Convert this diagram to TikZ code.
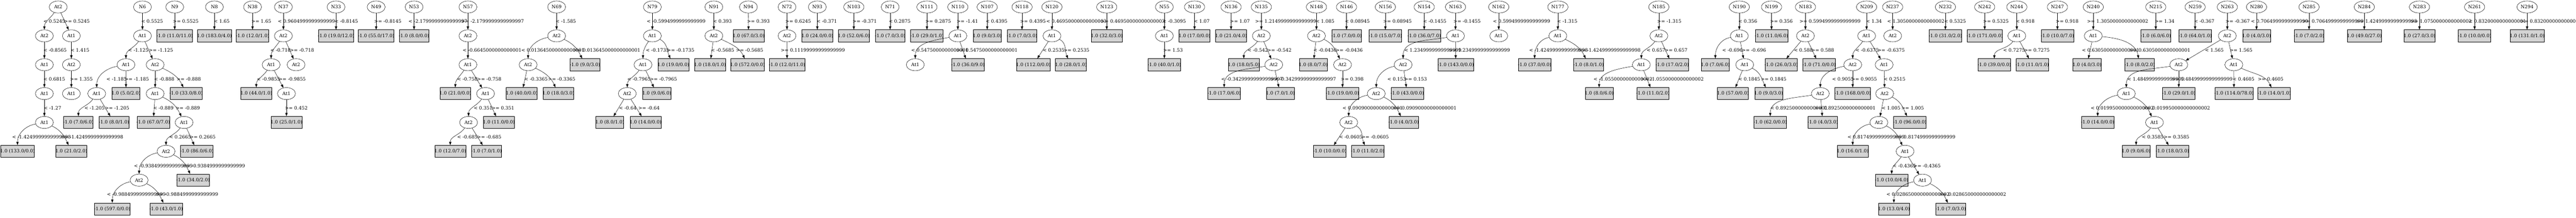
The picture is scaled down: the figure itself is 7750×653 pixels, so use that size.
\documentclass[tikz,border=0pt]{standalone}
\usepackage{fontspec}
\setmainfont{DejaVu Serif}
\usetikzlibrary{arrows.meta,shapes.geometric}
\definecolor{leafgray}{RGB}{211,211,211}

\begin{document}
\begin{tikzpicture}[x=1pt,y=1pt,
  every node/.style={font=\fontsize{14}{16}\selectfont},
  rt/.style={ellipse,draw,line width=0.8pt,minimum width=54pt,minimum height=36pt,inner sep=0pt},
  rtw/.style={rt,minimum width=61pt},
  split/.style={rt},
  leaf/.style={rectangle,draw,line width=1pt,fill=leafgray,minimum height=36pt,inner xsep=-1.5pt,inner ysep=0pt},
  lbl/.style={anchor=west,inner sep=0pt},
  arr/.style={line width=0.8pt,-{Triangle[length=10pt,width=7pt]}},
  ln/.style={out=-125,in=90},
  lf/.style={out=190,in=90},
  rc/.style={out=-25,in=115},
  rf/.style={out=-5,in=100}]
\useasboundingbox (0,0) rectangle (7750,653);

% Tree At2
\node[split] (T0) at (175,632) {At2};
\node[split] (T0a) at (133.5,545.4) {At2};
\node[split] (T0b) at (214.7,545.4) {At1};
\node[split] (T0c) at (133.5,458.8) {At1};
\node[split] (T0d) at (133.5,372.2) {At1};
\node[split] (T0e) at (133.5,285.6) {At1};
\node[leaf] (T0f) at (52.6,199) {1.0 (133.0/0.0)};
\node[leaf] (T0g) at (214.7,199) {1.0 (21.0/2.0)};
\node[split] (T0h) at (214.7,458.8) {At2};
\node[split] (T0i) at (214.7,372.2) {At1};
\draw[arr] (T0) to[ln] (T0a);
\draw[arr] (T0) -- (T0b);
\draw[arr] (T0a) -- (T0c);
\draw[arr] (T0c) -- (T0d);
\draw[arr] (T0d) -- (T0e);
\draw[arr] (T0e) to[lf] (T0f);
\draw[arr] (T0e) to[rc] (T0g);
\draw[arr] (T0b) -- (T0h);
\draw[arr] (T0h) -- (T0i);
% Text Node
\node[lbl] (eT0a) at (130.6,588.7) {< 0.5245};
\node[lbl] (eT0b) at (192.7,588.7) {>= 0.5245};
\node[lbl] (eT0c) at (130.6,502.1) {< -0.8565};
\node[lbl] (eT0d) at (130.6,415.5) {< 0.6815};
\node[lbl] (eT0e) at (131.8,328.9) {< -1.27};
\node[lbl] (eT0f) at (36.5,242.3) {< -1.4249999999999998};
\node[lbl,anchor=east] (eT0g) at (371,242.3) {>= -1.4249999999999998};
\node[lbl] (eT0h) at (212.2,502.1) {< 1.415};
\node[lbl] (eT0i) at (210.6,415.5) {>= 1.355};

% Tree N6
\node[rt] (N6) at (428.6,632) {N6};
\node[split] (N6a) at (428.6,545.4) {At1};
\node[split] (N6b) at (378.9,458.8) {At1};
\node[split] (N6c) at (466.7,458.8) {At2};
\node[split] (N6d) at (291,372.2) {At1};
\node[leaf] (N6e) at (379,372.2) {1.0 (5.0/2.0)};
\node[leaf] (N6f) at (235.9,285.6) {-1.0 (7.0/6.0)};
\node[leaf] (N6g) at (343,285.6) {-1.0 (8.0/1.0)};
\node[split] (N6h) at (466.7,372.2) {At1};
\node[leaf] (N6i) at (560,372.2) {-1.0 (33.0/8.0)};
\node[leaf] (N6j) at (461,285.6) {-1.0 (67.0/7.0)};
\node[split] (N6k) at (553.8,285.6) {At1};
\node[split] (N6l) at (499.5,199) {At2};
\node[leaf] (N6m) at (592.5,199) {-1.0 (86.0/6.0)};
\node[split] (N6n) at (418.6,112.4) {At2};
\node[leaf] (N6o) at (580.7,112.4) {-1.0 (34.0/2.0)};
\node[leaf] (N6p) at (337.8,25.8) {-1.0 (597.0/0.0)};
\node[leaf] (N6q) at (499.9,25.8) {-1.0 (43.0/1.0)};
\draw[arr] (N6) -- (N6a);
\draw[arr] (N6a) to[ln] (N6b);
\draw[arr] (N6a) -- (N6c);
\draw[arr] (N6b) to[lf] (N6d);
\draw[arr] (N6b) -- (N6e);
\draw[arr] (N6d) to[ln] (N6f);
\draw[arr] (N6d) -- (N6g);
\draw[arr] (N6c) -- (N6h);
\draw[arr] (N6c) to[rc] (N6i);
\draw[arr] (N6h) -- (N6j);
\draw[arr] (N6h) to[rc] (N6k);
\draw[arr] (N6k) to[ln] (N6l);
\draw[arr] (N6k) -- (N6m);
\draw[arr] (N6l) to[lf] (N6n);
\draw[arr] (N6l) to[rc] (N6o);
\draw[arr] (N6n) to[lf] (N6p);
\draw[arr] (N6n) to[rc] (N6q);
% Text Node
\node[lbl] (eN6a) at (424.9,588.7) {< 0.5525};
\node[lbl] (eN6b) at (385.5,502.1) {< -1.125};
\node[lbl] (eN6c) at (447.7,502.1) {>= -1.125};
\node[lbl] (eN6d) at (320,415.5) {< -1.185};
\node[lbl] (eN6e) at (375.1,415.5) {>= -1.185};
\node[lbl] (eN6f) at (253.7,328.9) {< -1.205};
\node[lbl] (eN6g) at (315.8,328.9) {>= -1.205};
\node[lbl] (eN6h) at (463.4,415.5) {< -0.888};
\node[lbl] (eN6i) at (531.4,415.5) {>= -0.888};
\node[lbl] (eN6j) at (461,328.9) {< -0.889};
\node[lbl] (eN6k) at (528.5,328.9) {>= -0.889};
\node[lbl] (eN6l) at (509,242.3) {< 0.2665};
\node[lbl] (eN6m) at (571.2,242.3) {>= 0.2665};
\node[lbl] (eN6n) at (402.9,155.7) {< -0.9384999999999999};
\node[lbl,anchor=east] (eN6o) at (737.4,155.7) {>= -0.9384999999999999};
\node[lbl] (eN6p) at (321.7,69.1) {< -0.9884999999999999};
\node[lbl,anchor=east] (eN6q) at (656.6,69.1) {>= -0.9884999999999999};

% Trees N9, N8, N38
\node[rt] (N9) at (525.6,632) {N9};
\node[leaf] (N9a) at (525.6,545.4) {-1.0 (11.0/11.0)};
\draw[arr] (N9) -- (N9a);
\node[lbl] (eN9a) at (520.2,588.7) {>= 0.5525};
\node[rt] (N8) at (645,632) {N8};
\node[leaf] (N8a) at (645,545.4) {1.0 (183.0/4.0)};
\draw[arr] (N8) -- (N8a);
\node[lbl] (eN8a) at (643.3,588.7) {< 1.65};
\node[rt] (N38) at (759.8,632) {N38};
\node[leaf] (N38a) at (759.8,545.4) {-1.0 (12.0/1.0)};
\draw[arr] (N38) -- (N38a);
\node[lbl] (eN38a) at (756.5,588.7) {>= 1.65};

% Tree N37
\node[rt] (N37) at (852.6,632) {N37};
\node[split] (N37a) at (852.6,545.4) {At2};
\node[split] (N37b) at (815.7,458.8) {At1};
\node[split] (N37c) at (890.8,458.8) {At2};
\node[leaf] (N37d) at (771,372.2) {1.0 (44.0/1.0)};
\node[split] (N37e) at (861.8,372.2) {At1};
\node[leaf] (N37f) at (861.8,285.6) {1.0 (25.0/1.0)};
\draw[arr] (N37) -- (N37a);
\draw[arr] (N37a) to[ln] (N37b);
\draw[arr] (N37a) -- (N37c);
\draw[arr] (N37b) to[ln] (N37d);
\draw[arr] (N37b) -- (N37e);
\draw[arr] (N37e) -- (N37f);
\node[lbl] (eN37a) at (836,588.7) {< 0.9604999999999999};
\node[lbl] (eN37b) at (813.3,502.1) {< -0.718};
\node[lbl] (eN37c) at (872.1,502.1) {>= -0.718};
\node[lbl] (eN37d) at (772.6,415.5) {< -0.9855};
\node[lbl] (eN37e) at (838.1,415.5) {>= -0.9855};
\node[lbl] (eN37f) at (857.2,328.9) {>= 0.452};

% Trees N33, N49, N53
\node[rt] (N33) at (1011,632) {N33};
\node[leaf] (N33a) at (1011,545.4) {-1.0 (19.0/12.0)};
\draw[arr] (N33) -- (N33a);
\node[lbl] (eN33a) at (1006.8,588.7) {< -0.8145};
\node[rt] (N49) at (1131.7,632) {N49};
\node[leaf] (N49a) at (1131.7,545.4) {-1.0 (55.0/17.0)};
\draw[arr] (N49) -- (N49a);
\node[lbl] (eN49a) at (1125.8,588.7) {>= -0.8145};
\node[rt] (N53) at (1245.7,632) {N53};
\node[leaf] (N53a) at (1245.7,545.4) {-1.0 (8.0/0.0)};
\draw[arr] (N53) -- (N53a);
\node[lbl] (eN53a) at (1228.6,588.7) {< -2.1799999999999997};

% Tree N57
\node[rt] (N57) at (1407.7,632) {N57};
\node[split] (N57a) at (1407.7,545.4) {At2};
\node[split] (N57b) at (1407.7,458.8) {At1};
\node[leaf] (N57c) at (1369.9,372.2) {1.0 (21.0/0.0)};
\node[split] (N57d) at (1460.7,372.2) {At1};
\node[split] (N57e) at (1409.7,285.6) {At2};
\node[leaf] (N57f) at (1500.9,285.6) {1.0 (11.0/0.0)};
\node[leaf] (N57g) at (1354.6,199) {1.0 (12.0/7.0)};
\node[leaf] (N57h) at (1463.6,199) {-1.0 (7.0/1.0)};
\draw[arr] (N57) -- (N57a);
\draw[arr] (N57a) -- (N57b);
\draw[arr] (N57b) to[ln] (N57c);
\draw[arr] (N57b) -- (N57d);
\draw[arr] (N57d) to[ln] (N57e);
\draw[arr] (N57d) -- (N57f);
\draw[arr] (N57e) to[ln] (N57g);
\draw[arr] (N57e) -- (N57h);
\node[lbl,anchor=east] (eN57a) at (1576.4,588.7) {>= -2.1799999999999997};
\node[lbl] (eN57b) at (1391.9,502.1) {< -0.6645000000000001};
\node[lbl] (eN57c) at (1375.3,415.5) {< -0.758};
\node[lbl] (eN57d) at (1435.4,415.5) {>= -0.758};
\node[lbl] (eN57e) at (1425.1,328.9) {< 0.351};
\node[lbl] (eN57f) at (1479,328.9) {>= 0.351};
\node[lbl] (eN57g) at (1375.3,242.3) {< -0.685};
\node[lbl] (eN57h) at (1435.4,242.3) {>= -0.685};

% Tree N69
\node[rt] (N69) at (1674.6,632) {N69};
\node[split] (N69a) at (1674.6,545.4) {At2};
\node[split] (N69b) at (1588.8,458.8) {At2};
\node[leaf] (N69c) at (1759.8,458.8) {-1.0 (9.0/3.0)};
\node[leaf] (N69d) at (1569.7,372.2) {1.0 (40.0/0.0)};
\node[leaf] (N69e) at (1680,372.2) {1.0 (18.0/3.0)};
\draw[arr] (N69) -- (N69a);
\draw[arr] (N69a) to[lf] (N69b);
\draw[arr] (N69a) to[rc] (N69c);
\draw[arr] (N69b) -- (N69d);
\draw[arr] (N69b) to[rc] (N69e);
\node[lbl] (eN69a) at (1671.7,588.7) {< -1.585};
\node[lbl] (eN69b) at (1568.1,502.1) {< 0.013645000000000001};
\node[lbl,anchor=east] (eN69c) at (1926.6,502.1) {>= 0.013645000000000001};
\node[lbl] (eN69d) at (1577.6,415.5) {< -0.3365};
\node[lbl] (eN69e) at (1648.9,415.5) {>= -0.3365};

% Tree N79
\node[rt] (N79) at (1962.7,632) {N79};
\node[split] (N79a) at (1962.7,545.4) {At1};
\node[split] (N79b) at (1934.5,458.8) {At1};
\node[leaf] (N79c) at (2025.7,458.8) {1.0 (19.0/0.0)};
\node[split] (N79d) at (1887.2,372.2) {At2};
\node[leaf] (N79e) at (1976,372.2) {1.0 (9.0/6.0)};
\node[leaf] (N79f) at (1834.8,285.6) {1.0 (8.0/1.0)};
\node[leaf] (N79g) at (1942,285.6) {1.0 (14.0/0.0)};
\draw[arr] (N79) -- (N79a);
\draw[arr] (N79a) to[ln] (N79b);
\draw[arr] (N79a) to[rc] (N79c);
\draw[arr] (N79b) to[ln] (N79d);
\draw[arr] (N79b) -- (N79e);
\draw[arr] (N79d) -- (N79f);
\draw[arr] (N79d) -- (N79g);
\node[lbl] (eN79a) at (1945.7,588.7) {< -0.5994999999999999};
\node[lbl] (eN79b) at (1942.8,502.1) {< -0.1735};
\node[lbl] (eN79c) at (2007,502.1) {>= -0.1735};
\node[lbl] (eN79d) at (1887.2,415.5) {< -0.7965};
\node[lbl] (eN79e) at (1955.2,415.5) {>= -0.7965};
\node[lbl] (eN79f) at (1862.4,328.9) {< -0.64};
\node[lbl] (eN79g) at (1920.4,328.9) {>= -0.64};

% Trees N91, N94, N72, N93, N103, N71, N111
\node[rt] (N91) at (2147.6,632) {N91};
\node[split] (N91a) at (2147.6,545.4) {At2};
\node[leaf] (N91b) at (2136,458.8) {1.0 (18.0/1.0)};
\node[leaf] (N91c) at (2248.9,458.8) {1.0 (572.0/0.0)};
\draw[arr] (N91) -- (N91a);
\draw[arr] (N91a) -- (N91b);
\draw[arr] (N91a) to[rc] (N91c);
\node[lbl] (eN91a) at (2145.1,588.7) {< 0.393};
\node[lbl] (eN91b) at (2138.9,502.1) {< -0.5685};
\node[lbl] (eN91c) at (2214.3,502.1) {>= -0.5685};
\node[rt] (N94) at (2251.6,632) {N94};
\node[leaf] (N94a) at (2252,545.4) {1.0 (67.0/3.0)};
\draw[arr] (N94) -- (N94a);
\node[lbl] (eN94a) at (2247.5,588.7) {>= 0.393};
\node[rt] (N72) at (2367.7,632) {N72};
\node[split] (N72a) at (2367.7,545.4) {At2};
\node[leaf] (N72b) at (2367.9,458.8) {-1.0 (12.0/11.0)};
\draw[arr] (N72) -- (N72a);
\draw[arr] (N72a) -- (N72b);
\node[lbl] (eN72a) at (2362.7,588.7) {>= 0.6245};
\node[lbl] (eN72b) at (2349,502.1) {>= 0.11199999999999999};
\node[rt] (N93) at (2458.9,632) {N93};
\node[leaf] (N93a) at (2458.9,545.4) {1.0 (24.0/0.0)};
\draw[arr] (N93) -- (N93a);
\node[lbl] (eN93a) at (2456.8,588.7) {< -0.371};
\node[rtw] (N103) at (2568.8,632) {N103};
\node[leaf] (N103a) at (2568.8,545.4) {1.0 (52.0/6.0)};
\draw[arr] (N103) -- (N103a);
\node[lbl] (eN103a) at (2565,588.7) {>= -0.371};
\node[rt] (N71) at (2678,632) {N71};
\node[leaf] (N71a) at (2678,545.4) {-1.0 (7.0/3.0)};
\draw[arr] (N71) -- (N71a);
\node[lbl] (eN71a) at (2674,588.7) {< 0.2875};
\node[rtw] (N111) at (2788.8,632) {N111};
\node[leaf] (N111a) at (2788.8,545.4) {-1.0 (29.0/1.0)};
\draw[arr] (N111) -- (N111a);
\node[lbl] (eN111a) at (2783.8,588.7) {>= 0.2875};

% Tree N110
\node[rtw] (N110) at (2881.7,632) {N110};
\node[split] (N110a) at (2881.7,545.4) {At1};
\node[split] (N110b) at (2753.6,458.8) {At1};
\node[leaf] (N110c) at (2911.9,458.8) {-1.0 (36.0/9.0)};
\draw[arr] (N110) -- (N110a);
\draw[arr] (N110a) to[lf] (N110b);
\draw[arr] (N110a) -- (N110c);
\node[lbl] (eN110a) at (2878.3,588.7) {>= -1.41};
\node[lbl] (eN110b) at (2741.1,502.1) {< 0.5475000000000001};
\node[lbl,anchor=east] (eN110c) at (3061.5,502.1) {>= 0.5475000000000001};

% Trees N107, N118, N120, N123
\node[rtw] (N107) at (2970,632) {N107};
\node[leaf] (N107a) at (2970,545.4) {1.0 (9.0/3.0)};
\draw[arr] (N107) -- (N107a);
\node[lbl] (eN107a) at (2965.4,588.7) {< 0.4395};
\node[rtw] (N118) at (3074.8,632) {N118};
\node[leaf] (N118a) at (3074.8,545.4) {-1.0 (7.0/3.0)};
\draw[arr] (N118) -- (N118a);
\node[lbl] (eN118a) at (3069,588.7) {>= 0.4395};
\node[rtw] (N120) at (3164.8,632) {N120};
\node[split] (N120a) at (3164.8,545.4) {At1};
\node[leaf] (N120b) at (3108.8,458.8) {1.0 (112.0/0.0)};
\node[leaf] (N120c) at (3222,458.8) {1.0 (28.0/1.0)};
\draw[arr] (N120) -- (N120a);
\draw[arr] (N120a) -- (N120b);
\draw[arr] (N120a) to[rc] (N120c);
\node[lbl] (eN120a) at (3147.8,588.7) {< 0.46950000000000003};
\node[lbl] (eN120b) at (3137,502.1) {< 0.2535};
\node[lbl] (eN120c) at (3200,502.1) {>= 0.2535};
\node[rtw] (N123) at (3329.7,632) {N123};
\node[leaf] (N123a) at (3329.7,545.4) {1.0 (32.0/3.0)};
\draw[arr] (N123) -- (N123a);
\node[lbl] (eN123a) at (3311.9,588.7) {>= 0.46950000000000003};

% Trees N55, N130, N136
\node[rt] (N55) at (3503,632) {N55};
\node[split] (N55a) at (3503,545.4) {At1};
\node[leaf] (N55b) at (3503,458.8) {-1.0 (40.0/1.0)};
\draw[arr] (N55) -- (N55a);
\draw[arr] (N55a) -- (N55b);
\node[lbl] (eN55a) at (3497.6,588.7) {< -0.3095};
\node[lbl] (eN55b) at (3499.3,502.1) {>= 1.53};
\node[rtw] (N130) at (3593.8,632) {N130};
\node[leaf] (N130a) at (3593.8,545.4) {1.0 (17.0/0.0)};
\draw[arr] (N130) -- (N130a);
\node[lbl] (eN130a) at (3591.7,588.7) {< 1.07};
\node[rtw] (N136) at (3703.7,632) {N136};
\node[leaf] (N136a) at (3703.7,545.4) {1.0 (21.0/4.0)};
\draw[arr] (N136) -- (N136a);
\node[lbl] (eN136a) at (3700.7,588.7) {>= 1.07};

% Tree N135
\node[rtw] (N135) at (3794.8,632) {N135};
\node[split] (N135a) at (3794.8,545.4) {At2};
\node[leaf] (N135b) at (3742,458.8) {1.0 (18.0/5.0)};
\node[split] (N135c) at (3832.1,458.8) {At2};
\node[leaf] (N135d) at (3682.9,372.2) {-1.0 (17.0/6.0)};
\node[leaf] (N135e) at (3851.8,372.2) {1.0 (7.0/1.0)};
\draw[arr] (N135) -- (N135a);
\draw[arr] (N135a) to[ln] (N135b);
\draw[arr] (N135a) -- (N135c);
\draw[arr] (N135c) to[lf] (N135d);
\draw[arr] (N135c) -- (N135e);
\node[lbl] (eN135a) at (3776.2,588.7) {>= 1.2149999999999999};
\node[lbl] (eN135b) at (3753.4,502.1) {< -0.542};
\node[lbl] (eN135c) at (3812.6,502.1) {>= -0.542};
\node[lbl] (eN135d) at (3673.8,415.5) {< -0.34299999999999997};
\node[lbl,anchor=east] (eN135e) at (4019.5,415.5) {>= -0.34299999999999997};

% Tree N148
\node[rtw] (N148) at (3960.6,632) {N148};
\node[split] (N148a) at (3960.6,545.4) {At2};
\node[leaf] (N148b) at (3950.9,458.8) {1.0 (8.0/7.0)};
\node[split] (N148c) at (4039,458.8) {At2};
\node[leaf] (N148d) at (4039,372.2) {-1.0 (19.0/0.0)};
\draw[arr] (N148) -- (N148a);
\draw[arr] (N148a) -- (N148b);
\draw[arr] (N148a) to[rc] (N148c);
\draw[arr] (N148c) -- (N148d);
\node[lbl] (eN148a) at (3958.1,588.7) {< 1.085};
\node[lbl] (eN148b) at (3951.1,502.1) {< -0.0436};
\node[lbl] (eN148c) at (4018.2,502.1) {>= -0.0436};
\node[lbl] (eN148d) at (4034,415.5) {>= 0.398};

% Trees N146, N156, N154
\node[rtw] (N146) at (4051,632) {N146};
\node[leaf] (N146a) at (4051,545.4) {-1.0 (7.0/0.0)};
\draw[arr] (N146) -- (N146a);
\node[lbl] (eN146a) at (4046.4,588.7) {< 0.08945};
\node[rtw] (N156) at (4167.9,632) {N156};
\node[leaf] (N156a) at (4167.9,545.4) {-1.0 (15.0/7.0)};
\draw[arr] (N156) -- (N156a);
\node[lbl] (eN156a) at (4161.2,588.7) {>= 0.08945};
\node[rtw] (N154) at (4284.8,632) {N154};
\node[leaf] (N154a) at (4284.8,545.4) {-1.0 (36.0/7.0)};
\draw[arr] (N154) -- (N154a);
\node[lbl] (eN154a) at (4281.4,588.7) {< -0.1455};

% Tree N163
\node[rtw] (N163) at (4378.9,632) {N163};
\node[split] (N163a) at (4378.9,545.4) {At1};
\node[split] (N163b) at (4221.3,458.8) {At2};
\node[leaf] (N163c) at (4379.7,458.8) {-1.0 (143.0/0.0)};
\node[split] (N163d) at (4140.5,372.2) {At2};
\node[leaf] (N163e) at (4233.8,372.2) {-1.0 (43.0/0.0)};
\node[split] (N163f) at (4057.6,285.6) {At2};
\node[leaf] (N163g) at (4222.8,285.6) {-1.0 (4.0/3.0)};
\node[leaf] (N163h) at (4000.8,199) {-1.0 (10.0/0.0)};
\node[leaf] (N163i) at (4114.8,199) {-1.0 (11.0/2.0)};
\draw[arr] (N163) -- (N163a);
\draw[arr] (N163a) to[lf] (N163b);
\draw[arr] (N163a) -- (N163c);
\draw[arr] (N163b) to[lf] (N163d);
\draw[arr] (N163b) -- (N163e);
\draw[arr] (N163d) to[lf] (N163f);
\draw[arr] (N163d) to[rc] (N163g);
\draw[arr] (N163f) -- (N163h);
\draw[arr] (N163f) to[rc] (N163i);
\node[lbl] (eN163a) at (4372.6,588.7) {>= -0.1455};
\node[lbl] (eN163b) at (4224.7,502.1) {< 1.2349999999999999};
\node[lbl,anchor=east] (eN163c) at (4543,502.1) {>= 1.2349999999999999};
\node[lbl] (eN163d) at (4173.7,415.5) {< 0.153};
\node[lbl] (eN163e) at (4224.7,415.5) {>= 0.153};
\node[lbl] (eN163f) at (4039,328.9) {< 0.09090000000000001};
\node[lbl,anchor=east] (eN163g) at (4382.2,328.9) {>= 0.09090000000000001};
\node[lbl] (eN163h) at (4028.6,242.3) {< -0.0605};
\node[lbl] (eN163i) at (4096.2,242.3) {>= -0.0605};

% Trees N162, N177
\node[rtw] (N162) at (4509,632) {N162};
\node[split] (N162a) at (4509,545.4) {At1};
\draw[arr] (N162) -- (N162a);
\node[lbl] (eN162a) at (4491.6,588.7) {< 0.5994999999999999};
\node[rtw] (N177) at (4686.8,632) {N177};
\node[split] (N177a) at (4686.8,545.4) {At1};
\node[leaf] (N177b) at (4617,458.8) {-1.0 (37.0/0.0)};
\node[leaf] (N177c) at (4779,458.8) {-1.0 (8.0/1.0)};
\draw[arr] (N177) -- (N177a);
\draw[arr] (N177a) to[lf] (N177b);
\draw[arr] (N177a) to[rc] (N177c);
\node[lbl] (eN177a) at (4684.4,588.7) {< -1.315};
\node[lbl] (eN177b) at (4600.2,502.1) {< -1.4249999999999998};
\node[lbl,anchor=east] (eN177c) at (4936,502.1) {>= -1.4249999999999998};

% Tree N185
\node[rtw] (N185) at (4990.7,632) {N185};
\node[split] (N185a) at (4990.7,545.4) {At2};
\node[split] (N185b) at (4938,458.8) {At1};
\node[leaf] (N185c) at (5030.9,458.8) {-1.0 (17.0/2.0)};
\node[leaf] (N185d) at (4811,372.2) {1.0 (8.0/6.0)};
\node[leaf] (N185e) at (4972.8,372.2) {-1.0 (11.0/2.0)};
\draw[arr] (N185) -- (N185a);
\draw[arr] (N185a) to[ln] (N185b);
\draw[arr] (N185a) -- (N185c);
\draw[arr] (N185b) to[lf] (N185d);
\draw[arr] (N185b) -- (N185e);
\node[lbl] (eN185a) at (4985.7,588.7) {>= -1.315};
\node[lbl] (eN185b) at (4953.8,502.1) {< 0.657};
\node[lbl] (eN185c) at (5008.5,502.1) {>= 0.657};
\node[lbl] (eN185d) at (4794.2,415.5) {< -1.0550000000000002};
\node[lbl,anchor=east] (eN185e) at (5125.8,415.5) {>= -1.0550000000000002};

% Trees N190, N199, N183
\node[rtw] (N190) at (5232.7,632) {N190};
\node[split] (N190a) at (5232.7,545.4) {At1};
\node[leaf] (N190b) at (5160.6,458.8) {1.0 (7.0/6.0)};
\node[split] (N190c) at (5248.9,458.8) {At1};
\node[leaf] (N190d) at (5213.7,372.2) {1.0 (57.0/0.0)};
\node[leaf] (N190e) at (5321,372.2) {1.0 (9.0/3.0)};
\draw[arr] (N190) -- (N190a);
\draw[arr] (N190a) to[lf] (N190b);
\draw[arr] (N190a) -- (N190c);
\draw[arr] (N190c) -- (N190d);
\draw[arr] (N190c) to[rc] (N190e);
\node[lbl] (eN190a) at (5229.8,588.7) {< 0.356};
\node[lbl] (eN190b) at (5181.3,502.1) {< -0.696};
\node[lbl] (eN190c) at (5240.2,502.1) {>= -0.696};
\node[lbl] (eN190d) at (5229.8,415.5) {< 0.1845};
\node[lbl] (eN190e) at (5297.4,415.5) {>= 0.1845};
\node[rtw] (N199) at (5329.7,632) {N199};
\node[leaf] (N199a) at (5329.7,545.4) {-1.0 (11.0/6.0)};
\draw[arr] (N199) -- (N199a);
\node[lbl] (eN199a) at (5325.2,588.7) {>= 0.356};
\node[rtw] (N183) at (5431.7,632) {N183};
\node[split] (N183a) at (5431.7,545.4) {At2};
\node[leaf] (N183b) at (5358.8,458.8) {-1.0 (26.0/3.0)};
\node[leaf] (N183c) at (5472.7,458.8) {-1.0 (71.0/0.0)};
\draw[arr] (N183) -- (N183a);
\draw[arr] (N183a) -- (N183b);
\draw[arr] (N183a) -- (N183c);
\node[lbl] (eN183a) at (5413.5,588.7) {>= 0.5994999999999999};
\node[lbl] (eN183b) at (5396.9,502.1) {< 0.588};
\node[lbl] (eN183c) at (5449.5,502.1) {>= 0.588};

% Tree N209
\node[rtw] (N209) at (5615.7,632) {N209};
\node[split] (N209a) at (5615.7,545.4) {At1};
\node[split] (N209b) at (5573.9,458.8) {At2};
\node[split] (N209c) at (5668.4,458.8) {At1};
\node[split] (N209d) at (5476.5,372.2) {At2};
\node[leaf] (N209e) at (5573.9,372.2) {-1.0 (168.0/0.0)};
\node[leaf] (N209f) at (5325.8,285.6) {-1.0 (62.0/0.0)};
\node[leaf] (N209g) at (5483.9,285.6) {-1.0 (4.0/3.0)};
\node[split] (N209h) at (5670,372.2) {At2};
\node[split] (N209i) at (5652.6,285.6) {At2};
\node[leaf] (N209j) at (5745.9,285.6) {-1.0 (96.0/0.0)};
\node[leaf] (N209k) at (5573.9,199) {1.0 (16.0/1.0)};
\node[split] (N209l) at (5731.4,199) {At1};
\node[leaf] (N209m) at (5691.2,112.4) {-1.0 (10.0/4.0)};
\node[split] (N209n) at (5784,112.4) {At1};
\node[leaf] (N209o) at (5697.8,25.8) {1.0 (13.0/4.0)};
\node[leaf] (N209p) at (5868.6,25.8) {-1.0 (7.0/3.0)};
\draw[arr] (N209) -- (N209a);
\draw[arr] (N209a) to[ln] (N209b);
\draw[arr] (N209a) -- (N209c);
\draw[arr] (N209b) to[lf] (N209d);
\draw[arr] (N209b) -- (N209e);
\draw[arr] (N209d) to[lf] (N209f);
\draw[arr] (N209d) -- (N209g);
\draw[arr] (N209c) -- (N209h);
\draw[arr] (N209h) -- (N209i);
\draw[arr] (N209h) to[rc] (N209j);
\draw[arr] (N209i) to[lf] (N209k);
\draw[arr] (N209i) to[rc] (N209l);
\draw[arr] (N209l) to[ln] (N209m);
\draw[arr] (N209l) -- (N209n);
\draw[arr] (N209n) to[lf] (N209o);
\draw[arr] (N209n) to[rc] (N209p);
\node[lbl] (eN209a) at (5614.1,588.7) {< 1.34};
\node[lbl] (eN209b) at (5582.2,502.1) {< -0.6375};
\node[lbl] (eN209c) at (5648.5,502.1) {>= -0.6375};
\node[lbl] (eN209d) at (5511.7,415.5) {< 0.9055};
\node[lbl] (eN209e) at (5569.7,415.5) {>= 0.9055};
\node[lbl] (eN209f) at (5326,328.9) {< 0.8925000000000001};
\node[lbl,anchor=east] (eN209g) at (5643.1,328.9) {>= 0.8925000000000001};
\node[lbl] (eN209h) at (5667.1,415.5) {< 0.2515};
\node[lbl] (eN209i) at (5660.9,328.9) {< 1.005};
\node[lbl] (eN209j) at (5720.2,328.9) {>= 1.005};
\node[lbl] (eN209k) at (5558.1,242.3) {< 0.8174999999999999};
\node[lbl,anchor=east] (eN209l) at (5883.1,242.3) {>= 0.8174999999999999};
\node[lbl] (eN209m) at (5694.1,155.7) {< -0.4365};
\node[lbl,anchor=east] (eN209n) at (5838.8,155.7) {>= -0.4365};
\node[lbl] (eN209o) at (5675.4,69.1) {< 0.028650000000000002};
\node[lbl,anchor=east] (eN209p) at (6035.6,69.1) {>= 0.028650000000000002};

% Trees N237, N232, N242, N244, N247
\node[rtw] (N237) at (5694.1,632) {N237};
\node[split] (N237a) at (5694.1,545.4) {At2};
\draw[arr] (N237) -- (N237a);
\node[lbl] (eN237a) at (5677.5,588.7) {< 1.3050000000000002};
\node[rtw] (N232) at (5852.8,632) {N232};
\node[leaf] (N232a) at (5852.8,545.4) {-1.0 (31.0/2.0)};
\draw[arr] (N232) -- (N232a);
\node[lbl] (eN232a) at (5849.1,588.7) {< 0.5325};
\node[rtw] (N242) at (5971,632) {N242};
\node[leaf] (N242a) at (5971,545.4) {-1.0 (171.0/0.0)};
\draw[arr] (N242) -- (N242a);
\node[lbl] (eN242a) at (5966,588.7) {>= 0.5325};
\node[rtw] (N244) at (6067.6,632) {N244};
\node[split] (N244a) at (6067.6,545.4) {At1};
\node[leaf] (N244b) at (6000,458.8) {-1.0 (39.0/0.0)};
\node[leaf] (N244c) at (6114,458.8) {-1.0 (11.0/1.0)};
\draw[arr] (N244) -- (N244a);
\draw[arr] (N244a) to[ln] (N244b);
\draw[arr] (N244a) -- (N244c);
\node[lbl] (eN244a) at (6064.7,588.7) {< 0.918};
\node[lbl] (eN244b) at (6026.5,502.1) {< 0.7275};
\node[lbl] (eN244c) at (6089.5,502.1) {>= 0.7275};
\node[rtw] (N247) at (6189.8,632) {N247};
\node[leaf] (N247a) at (6189.8,545.4) {-1.0 (10.0/7.0)};
\draw[arr] (N247) -- (N247a);
\node[lbl] (eN247a) at (6184.9,588.7) {>= 0.918};

% Tree N240
\node[rtw] (N240) at (6297.6,632) {N240};
\node[split] (N240a) at (6297.6,545.4) {At1};
\node[leaf] (N240b) at (6278.7,458.8) {1.0 (4.0/3.0)};
\node[leaf] (N240c) at (6437.3,458.8) {-1.0 (8.0/2.0)};
\draw[arr] (N240) -- (N240a);
\draw[arr] (N240a) -- (N240b);
\draw[arr] (N240a) to[rf] (N240c);
\node[lbl] (eN240a) at (6279,588.7) {>= 1.3050000000000002};
\node[lbl] (eN240b) at (6263.6,502.1) {< 0.6305000000000001};
\node[lbl,anchor=east] (eN240c) at (6589.7,502.1) {>= 0.6305000000000001};

% Trees N215, N259
\node[rtw] (N215) at (6485.7,632) {N215};
\node[leaf] (N215a) at (6485.7,545.4) {-1.0 (6.0/6.0)};
\draw[arr] (N215) -- (N215a);
\node[lbl] (eN215a) at (6482.6,588.7) {>= 1.34};
\node[rtw] (N259) at (6604,632) {N259};
\node[leaf] (N259a) at (6604,545.4) {-1.0 (64.0/1.0)};
\draw[arr] (N259) -- (N259a);
\node[lbl] (eN259a) at (6600.9,588.7) {< -0.367};

% Tree N263
\node[rtw] (N263) at (6700.9,632) {N263};
\node[split] (N263a) at (6700.9,545.4) {At2};
\node[split] (N263b) at (6554.9,458.8) {At2};
\node[split] (N263c) at (6720.5,458.8) {At1};
\node[split] (N263d) at (6397,372.2) {At1};
\node[leaf] (N263e) at (6554.9,372.2) {-1.0 (29.0/1.0)};
\node[leaf] (N263f) at (6721,372.2) {-1.0 (114.0/78.0)};
\node[leaf] (N263g) at (6842,372.2) {-1.0 (14.0/1.0)};
\node[leaf] (N263h) at (6310.9,285.6) {-1.0 (14.0/0.0)};
\node[split] (N263i) at (6481.7,285.6) {At1};
\node[leaf] (N263j) at (6426.6,199) {1.0 (9.0/6.0)};
\node[leaf] (N263k) at (6535.7,199) {-1.0 (18.0/3.0)};
\draw[arr] (N263) -- (N263a);
\draw[arr] (N263a) -- (N263b);
\draw[arr] (N263a) -- (N263c);
\draw[arr] (N263b) to[lf] (N263d);
\draw[arr] (N263b) -- (N263e);
\draw[arr] (N263c) -- (N263f);
\draw[arr] (N263c) to[rc] (N263g);
\draw[arr] (N263d) to[lf] (N263h);
\draw[arr] (N263d) to[rc] (N263i);
\draw[arr] (N263i) to[ln] (N263j);
\draw[arr] (N263i) -- (N263k);
\node[lbl] (eN263a) at (6695.5,588.7) {>= -0.367};
\node[lbl] (eN263b) at (6633.5,502.1) {< 1.565};
\node[lbl] (eN263c) at (6708,502.1) {>= 1.565};
\node[lbl] (eN263d) at (6400,415.5) {< 1.4849999999999999};
\node[lbl,anchor=east] (eN263e) at (6717,415.5) {>= 1.4849999999999999};
\node[lbl] (eN263f) at (6717,415.5) {< 0.4605};
\node[lbl] (eN263g) at (6792.8,415.5) {>= 0.4605};
\node[lbl] (eN263h) at (6289.7,328.9) {< 0.019950000000000002};
\node[lbl,anchor=east] (eN263i) at (6649,328.9) {>= 0.019950000000000002};
\node[lbl] (eN263j) at (6443.7,242.3) {< 0.3585};
\node[lbl] (eN263k) at (6509.4,242.3) {>= 0.3585};

% Trees N280, N285, N284, N283, N261, N294
\node[rtw] (N280) at (6788.8,632) {N280};
\node[leaf] (N280a) at (6788.8,545.4) {1.0 (4.0/3.0)};
\draw[arr] (N280) -- (N280a);
\node[lbl] (eN280a) at (6771.9,588.7) {< 0.7064999999999999};
\node[rtw] (N285) at (6946.8,632) {N285};
\node[leaf] (N285a) at (6946.8,545.4) {-1.0 (7.0/2.0)};
\draw[arr] (N285) -- (N285a);
\node[lbl] (eN285a) at (6926.8,588.7) {>= 0.7064999999999999};
\node[rtw] (N284) at (7113,632) {N284};
\node[leaf] (N284a) at (7113,545.4) {1.0 (49.0/27.0)};
\draw[arr] (N284) -- (N284a);
\node[lbl] (eN284a) at (7088,588.7) {>= 1.4249999999999998};
\node[rtw] (N283) at (7279,632) {N283};
\node[leaf] (N283a) at (7279,545.4) {1.0 (27.0/3.0)};
\draw[arr] (N283) -- (N283a);
\node[lbl] (eN283a) at (7252,588.7) {>= 1.0750000000000002};
\node[rtw] (N261) at (7444.9,632) {N261};
\node[leaf] (N261a) at (7444.9,545.4) {-1.0 (10.0/0.0)};
\draw[arr] (N261) -- (N261a);
\node[lbl] (eN261a) at (7427,588.7) {< 0.8320000000000001};
\node[rtw] (N294) at (7602.8,632) {N294};
\node[leaf] (N294a) at (7602.8,545.4) {1.0 (131.0/1.0)};
\draw[arr] (N294) -- (N294a);
\node[lbl] (eN294a) at (7583,588.7) {>= 0.8320000000000001};

\end{tikzpicture}
\end{document}
